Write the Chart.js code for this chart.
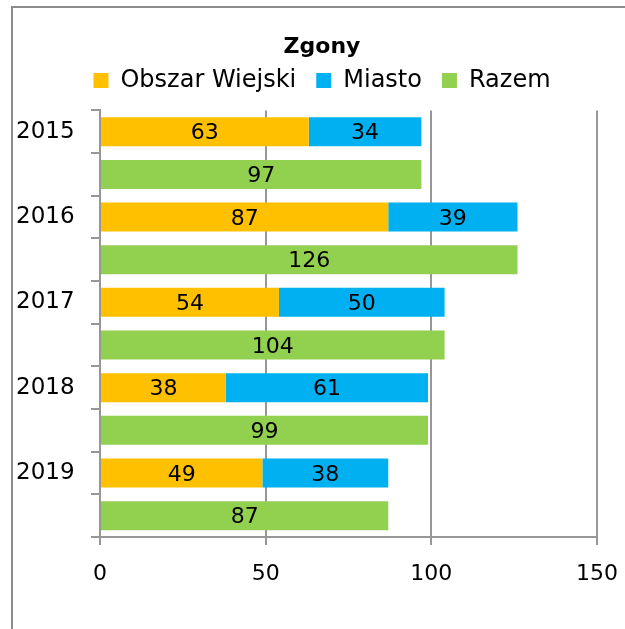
<!DOCTYPE html>
<html>
<head>
<meta charset="utf-8">
<script src="https://cdn.jsdelivr.net/npm/chart.js@4/dist/chart.umd.min.js"></script>
<style>
  html, body { margin: 0; padding: 0; background: #fff; }
  #wrap { position: relative; width: 625px; height: 629px; overflow: hidden; }
  #frame { position: absolute; left: 11px; top: 6px; width: 700px; height: 700px; border: 2px solid #8c8c8c; }
  canvas { position: absolute; left: 0; top: 0; }
</style>
</head>
<body>
<div id="wrap">
  <div id="frame"></div>
  <canvas id="myChart" width="625" height="629"></canvas>
</div>
<script>
(() => {
  'use strict'

  // each year takes two rows: the split bar and the total bar
  const rows = ['2015', '', '2016', '', '2017', '', '2018', '', '2019', '']
  const wiejski = [63, null, 87, null, 54, null, 38, null, 49, null]
  const miasto = [34, null, 39, null, 50, null, 61, null, 38, null]
  const razem = [null, 97, null, 126, null, 104, null, 99, null, 87]
  const xTicks = [0, 50, 100, 150]

  const font = 'DejaVu Sans'
  const gray = '#979797'

  // numbers in the middle of each bar
  const barLabels = {
    id: 'barLabels',
    afterDatasetsDraw (chart) {
      const c = chart.ctx
      c.save()
      c.font = '22px "' + font + '"'
      c.fillStyle = '#000'
      c.textAlign = 'center'
      c.textBaseline = 'middle'
      chart.data.datasets.forEach((ds, i) => {
        chart.getDatasetMeta(i).data.forEach((bar, j) => {
          const v = ds.data[j]
          if (v === null) return
          const p = bar.getProps(['x', 'y', 'base'], true)
          c.fillText(String(v), (p.x + p.base) / 2, p.y + 2)
        })
      })
      c.restore()
    }
  }

  const ctx = document.getElementById('myChart')
  // eslint-disable-next-line no-unused-vars
  const myChart = new Chart(ctx, {
    type: 'bar',
    data: {
      labels: rows,
      datasets: [
        { label: 'Obszar Wiejski', data: wiejski, backgroundColor: '#FFC000' },
        { label: 'Miasto', data: miasto, backgroundColor: '#00B0F0' },
        { label: 'Razem', data: razem, backgroundColor: '#92D050' }
      ]
    },
    options: {
      indexAxis: 'y',
      responsive: false,
      animation: false,
      categoryPercentage: 1,
      barPercentage: 0.68,
      layout: { padding: { left: 47, right: 28, top: 0, bottom: 0 } },
      scales: {
        x: {
          stacked: true,
          min: 0,
          max: 150,
          afterBuildTicks: (s) => { s.ticks = xTicks.map(v => ({ value: v })) },
          afterFit: (s) => { s.height = 92 },
          border: { color: gray, width: 2 },
          grid: { color: gray, lineWidth: 2, tickLength: 8 },
          // tall line height pushes the labels down without widening the side padding
          ticks: { color: '#000', padding: 5, font: { family: font, size: 22, lineHeight: 2.18 } }
        },
        y: {
          stacked: true,
          afterFit: (s) => { s.width = 53 },
          border: { color: gray, width: 2 },
          grid: { offset: true, drawOnChartArea: false, color: gray, lineWidth: 2, tickLength: 9 },
          // mirrored with a negative padding so the labels sit left of the axis unclipped
          ticks: { color: '#000', mirror: true, padding: -84, autoSkip: false, font: { family: font, size: 23 } }
        }
      },
      plugins: {
        title: {
          display: true,
          text: 'Zgony',
          color: '#000',
          font: { family: font, size: 22, weight: 'bold' },
          padding: { top: 34, bottom: -12 }
        },
        // empty spacer between legend and plot
        subtitle: {
          display: true,
          text: '',
          weight: 500,
          font: { size: 1, lineHeight: 1 },
          padding: { top: 7, bottom: 0 }
        },
        legend: {
          labels: {
            color: '#000',
            boxWidth: 15,
            boxHeight: 15,
            padding: 20,
            font: { family: font, size: 24 }
          }
        },
        tooltip: { enabled: false }
      }
    },
    plugins: [barLabels]
  })
})()
</script>
</body>
</html>
